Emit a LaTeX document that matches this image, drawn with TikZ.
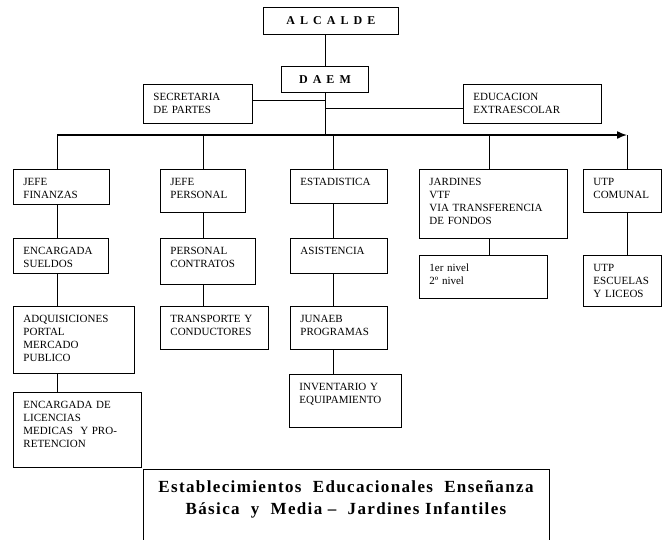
\documentclass[tikz,border=0pt]{standalone}
\usepackage{fontspec}
\setmainfont{Liberation Serif}
\newfontfamily\espaciada{Liberation Serif}[LetterSpace=42]
\newfontfamily\rotulo{Liberation Serif}[LetterSpace=8]
\newcommand{\cuadro}{\fontsize{11}{13}\selectfont}
\usetikzlibrary{arrows.meta}

\tikzset{
	caja/.style={draw, line width=0.9pt, anchor=north west, align=left,
		inner xsep=10pt, inner ysep=0pt, text height=16pt, font=\cuadro},
	jefe/.style={draw, line width=0.9pt, anchor=north west, inner sep=0pt,
		font=\espaciada\bfseries\fontsize{12}{14}\selectfont},
	barra/.style={line width=1.5pt, -{Latex[length=10pt,width=8pt]}}
}

\begin{document}
\begin{tikzpicture}[x=1pt, y=-1pt, line width=0.9pt]
			\useasboundingbox (0,0) rectangle (662,539);
			\clip (0,0) rectangle (662,539);
			\node[jefe, minimum width=135pt, minimum height=27pt] (alcalde) at (263,7) {ALCALDE};
			\node[jefe, minimum width=87pt, minimum height=26pt] (daem) at (281,66) {DAEM};
			\node[caja, text width=89pt, text depth=23pt] (secr) at (143,84) {SECRETARIA\\DE PARTES};
			\node[caja, text width=118pt, text depth=23pt] (educ) at (463,84) {EDUCACION\\EXTRAESCOLAR};

			\coordinate (c1) at (57,135);
			\coordinate (c2) at (203,135);
			\coordinate (c3) at (333,135);
			\coordinate (c4) at (489,135);
			\coordinate (c5) at (627,135);

			\node[caja, text width=76pt, text depth=19pt] (fin) at (13,169) {JEFE\\FINANZAS};
			\node[caja, text width=65pt, text depth=27pt] (pers) at (160,169) {JEFE\\PERSONAL};
			\node[caja, text width=77pt, text depth=18pt] (est) at (290,169) {ESTADISTICA};
			\node[caja, text width=128pt, text depth=53pt] (jard) at (419,169) {JARDINES\\VTF\\VIA TRANSFERENCIA\\DE FONDOS};
			\node[caja, text width=58pt, text depth=27pt] (utp) at (583,169) {UTP\\COMUNAL};

			\node[caja, text width=75pt, text depth=19pt] (sueldos) at (13,238) {ENCARGADA\\SUELDOS};
			\node[caja, text width=75pt, text depth=30pt] (contr) at (160,238) {PERSONAL\\CONTRATOS};
			\node[caja, text width=77pt, text depth=19pt] (asist) at (290,238) {ASISTENCIA};
			\node[caja, text width=108pt, text depth=27pt] (nivel) at (419,255) {1er nivel\\2º nivel};
			\node[caja, text width=58pt, text depth=35pt] (utpesc) at (583,255) {UTP\\ESCUELAS\\Y LICEOS};

			\node[caja, text width=101pt, text depth=51pt] (adq) at (13,306) {ADQUISICIONES\\PORTAL\\MERCADO\\PUBLICO};
			\node[caja, text width=88pt, text depth=27pt] (transp) at (160,306) {TRANSPORTE Y\\CONDUCTORES};
			\node[caja, text width=77pt, text depth=27pt] (junaeb) at (290,306) {JUNAEB\\PROGRAMAS};
			\node[caja, text width=92pt, text depth=37pt] (inv) at (289,374) {INVENTARIO Y\\EQUIPAMIENTO};
			\node[caja, text width=108pt, text depth=59pt] (lic) at (13,392) {ENCARGADA DE\\LICENCIAS\\MEDICAS\ \ Y PRO-\\RETENCION};

			\node[draw, anchor=north west, inner sep=0pt, minimum width=406pt, minimum height=100pt] (marco) at (143,469) {};
			\node[anchor=north, align=center, inner sep=0pt, font=\rotulo\bfseries\fontsize{17}{22.5}\selectfont] (texto) at (346,480)
				{Establecimientos\ \ Educacionales\ \ Enseñanza\\Básica\ \ y\ \ Media –\ \ Jardines Infantiles};

			\draw (alcalde.south -| daem.north) -- (daem.north);
			\draw (daem.south) -- (daem.south |- c1);
			\draw ([yshift=3.5pt]secr.east) -- ([yshift=3.5pt]secr.east -| daem.south);
			\draw ([yshift=-4.5pt]educ.west) -- ([yshift=-4.5pt]educ.west -| daem.south);
			\draw[barra] (c1) -- (c5);
			\foreach \c/\n in {c1/fin, c2/pers, c3/est, c4/jard, c5/utp}
				\draw (\c) -- (\c |- \n.north);
			\foreach \c/\a/\b in {c1/fin/sueldos, c1/sueldos/adq, c1/adq/lic, c2/pers/contr, c2/contr/transp,
				c3/est/asist, c3/asist/junaeb, c3/junaeb/inv, c4/jard/nivel, c5/utp/utpesc}
				\draw (\a.south -| \c) -- (\b.north -| \c);
		\end{tikzpicture}
\end{document}
